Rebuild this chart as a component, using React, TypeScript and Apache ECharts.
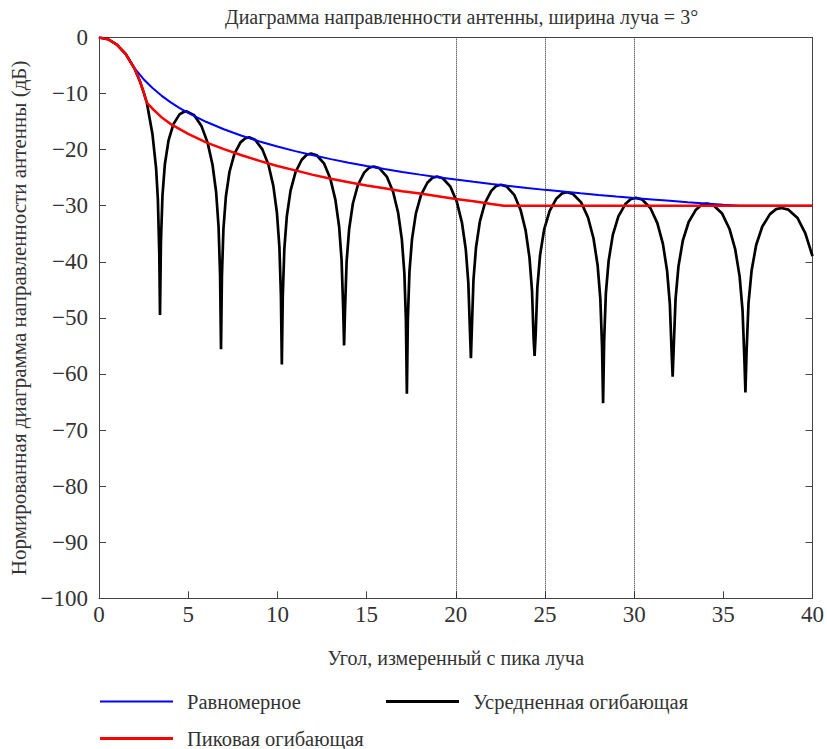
import React, { useEffect, useRef } from "react";
import * as echarts from "echarts";

const titleText = "Диаграмма направленности антенны, ширина луча = 3°";
const xAxisName = "Угол, измеренный с пика луча";
const yAxisName = "Нормированная диаграмма направленности антенны (дБ)";
const seriesNames = ["Равномерное", "Усредненная огибающая", "Пиковая огибающая"];

// Black curve: far-field pattern (angle in degrees, level in dB)
const patternAngles = [
  0, 0.5, 1, 1.5, 2, 2.3, 2.5, 2.68, 3.0, 3.2, 3.3, 3.38,
  3.42, 3.471, 3.557, 3.694, 3.899, 4.172, 4.514, 4.788, 4.891, 5.335, 5.746, 6.088, 6.361, 6.566, 6.703, 6.789,
  6.84, 6.891, 6.976, 7.113, 7.317, 7.59, 7.931, 8.204, 8.409, 8.75, 9.159, 9.5, 9.773, 9.977, 10.114, 10.199,
  10.25, 10.302, 10.39, 10.529, 10.739, 11.018, 11.367, 11.646, 11.89, 12.204, 12.623, 12.972, 13.251, 13.461, 13.6, 13.688,
  13.74, 13.793, 13.881, 14.022, 14.233, 14.514, 14.866, 15.148, 15.394, 15.711, 16.134, 16.486, 16.767, 16.978, 17.119, 17.207,
  17.26, 17.314, 17.404, 17.547, 17.763, 18.05, 18.409, 18.696, 18.947, 19.27, 19.701, 20.06, 20.347, 20.563, 20.706, 20.796,
  20.85, 20.904, 20.993, 21.136, 21.35, 21.635, 21.992, 22.278, 22.528, 22.849, 23.278, 23.635, 23.92, 24.134, 24.277, 24.366,
  24.42, 24.478, 24.574, 24.727, 24.958, 25.265, 25.649, 25.956, 26.225, 26.57, 27.031, 27.415, 27.722, 27.953, 28.106, 28.202,
  28.26, 28.319, 28.416, 28.572, 28.806, 29.118, 29.508, 29.82, 30.093, 30.444, 30.912, 31.302, 31.614, 31.848, 32.004, 32.102,
  32.16, 32.221, 32.323, 32.486, 32.731, 33.058, 33.466, 33.792, 34.078, 34.445, 34.934, 35.342, 35.669, 35.914, 36.077, 36.179,
  36.24, 36.305, 36.412, 36.584, 36.842, 37.186, 37.616, 37.96, 38.261, 38.648, 39.164, 39.594, 40,
];
const patternDb = [
  0, -0.3, -1.26, -2.95, -5.59, -7.84, -9.74, -11.6, -17.3, -23.3, -28.8, -38.5,
  -49.5, -36.55, -28.25, -22.55, -18.35, -15.45, -13.71, -13.19, -13.15, -13.85, -15.8, -18.75, -22.65, -27.55, -33.75, -42.35,
  -55.6, -42.5, -34.15, -28.36, -23.94, -20.75, -18.7, -17.96, -17.8, -18.24, -19.95, -22.7, -26.46, -31.3, -37.4, -46.0,
  -58.3, -46.2, -37.7, -31.9, -27.3, -24.0, -21.8, -20.9, -20.7, -21.0, -22.5, -25.2, -28.9, -33.7, -39.7, -48.2,
  -54.9, -48.5, -40.0, -34.2, -29.6, -26.3, -24.1, -23.2, -23.0, -23.3, -24.8, -27.5, -31.2, -36.0, -42.0, -50.5,
  -63.5, -50.3, -41.8, -36.0, -31.4, -28.1, -25.9, -25.0, -24.8, -25.1, -26.6, -29.3, -33.0, -37.8, -43.8, -52.3,
  -57.2, -51.75, -43.25, -37.45, -32.85, -29.55, -27.35, -26.45, -26.25, -26.55, -28.05, -30.75, -34.45, -39.25, -45.25, -53.75,
  -56.8, -53.1, -44.6, -38.8, -34.2, -30.9, -28.7, -27.8, -27.6, -27.9, -29.4, -32.1, -35.8, -40.6, -46.6, -55.1,
  -65.2, -54.1, -45.6, -39.8, -35.2, -31.9, -29.7, -28.8, -28.6, -28.9, -30.4, -33.1, -36.8, -41.6, -47.6, -56.1,
  -60.5, -55.1, -46.6, -40.8, -36.2, -32.9, -30.7, -29.8, -29.6, -29.9, -31.4, -34.1, -37.8, -42.6, -48.6, -57.1,
  -63.3, -55.9, -47.4, -41.6, -37.0, -33.7, -31.5, -30.6, -30.4, -30.7, -32.2, -34.9, -39.0,
];

// Blue curve
const uniformAngles = [
  0, 0.5, 1, 1.5, 2, 2.5, 3, 3.5, 4, 4.5, 5, 6, 7, 8, 9, 10, 11, 12, 13, 14, 15, 16, 17, 18, 19, 20,
  21, 22, 23, 24, 25, 26, 27, 28, 29, 30, 31, 32, 33, 34, 35, 35.9, 40,
];
const uniformDb = [
  0, -0.3, -1.26, -2.95, -5.5, -7.44, -9.02, -10.36, -11.52, -12.54, -13.45, -15.03, -16.36, -17.52, -18.53, -19.44,
  -20.26, -21.0, -21.69, -22.32, -22.91, -23.45, -23.97, -24.45, -24.9, -25.33, -25.73, -26.12, -26.48, -26.83,
  -27.17, -27.48, -27.79, -28.08, -28.36, -28.63, -28.88, -29.13, -29.37, -29.6, -29.82, -30, -30,
];

// Red curve
const peakAngles = [
  0, 0.5, 1, 1.5, 2, 2.3, 2.5, 2.68, 3, 3.5, 4, 5, 6, 7, 8, 9, 10, 11, 12, 13, 14, 15, 16, 17, 18, 19, 20,
  21, 22, 22.7, 40,
];
const peakDb = [
  0, -0.3, -1.26, -2.95, -5.59, -7.84, -9.74, -11.6, -12.7, -14.2, -15.4, -17.2, -18.7, -19.9, -21.0, -22.0,
  -22.9, -23.7, -24.5, -25.2, -25.8, -26.4, -26.9, -27.4, -27.8, -28.3, -28.8, -29.2, -29.7, -30, -30,
];

const markerAngles = [20, 25, 30];
const rightTickValues = [-40, -50, -60, -70, -80, -90];

const FONT = "Liberation Serif";
const TEXT = "#333";
const AXIS = "#444";

const zip = (xs: number[], ys: number[]) => xs.map((x, i) => [x, ys[i]]);
const fmtY = (v: number) => (v < 0 ? "\u2212" + Math.abs(v) : String(v));

export default function App() {
  const ref = useRef<HTMLDivElement>(null);
  useEffect(() => {
    if (!ref.current) return;
    const chart = echarts.init(ref.current, null, { renderer: "svg" });
    const legendText = { fontFamily: FONT, fontSize: 20.5, color: TEXT, padding: [0, 0, 0, 9] };
    chart.setOption({
      animation: false,
      backgroundColor: "#fff",
      textStyle: { fontFamily: FONT },
      title: {
        text: titleText,
        left: 220,
        top: 2,
        textStyle: { fontFamily: FONT, fontSize: 20, fontWeight: "normal", color: TEXT },
      },
      grid: { left: 99, right: 14.5, top: 37.5, bottom: 150.7 },
      legend: [
        { data: [seriesNames[0]], left: 100, top: 691, padding: 0, icon: "rect", itemWidth: 73, itemHeight: 2, textStyle: legendText },
        { data: [seriesNames[1]], left: 386, top: 691, padding: 0, icon: "rect", itemWidth: 73, itemHeight: 3, textStyle: legendText },
        { data: [seriesNames[2]], left: 100, top: 728, padding: 0, icon: "rect", itemWidth: 73, itemHeight: 3, textStyle: legendText },
      ],
      xAxis: [
        {
          type: "value",
          min: 0,
          max: 40,
          interval: 5,
          name: xAxisName,
          nameLocation: "middle",
          nameGap: 50,
          nameTextStyle: { fontFamily: FONT, fontSize: 20, color: TEXT },
          axisLine: { onZero: false, lineStyle: { color: AXIS, width: 1 } },
          axisTick: { inside: true, length: 7, lineStyle: { color: AXIS } },
          axisLabel: { fontFamily: FONT, fontSize: 23, color: TEXT, margin: 5 },
          splitLine: { show: false },
        },
        {
          type: "value",
          position: "top",
          min: 0,
          max: 40,
          interval: 5,
          axisLine: { show: true, onZero: false, lineStyle: { color: AXIS, width: 1 } },
          axisTick: { show: false },
          axisLabel: { show: false },
          splitLine: { show: false },
        },
      ],
      yAxis: [
        {
          type: "value",
          min: -100,
          max: 0,
          interval: 10,
          name: yAxisName,
          nameLocation: "middle",
          nameRotate: 90,
          nameGap: 63,
          nameTextStyle: { fontFamily: FONT, fontSize: 21, color: TEXT },
          axisLine: { onZero: false, lineStyle: { color: AXIS, width: 1 } },
          axisTick: { inside: true, length: 7, lineStyle: { color: AXIS } },
          axisLabel: { fontFamily: FONT, fontSize: 23, color: TEXT, margin: 11, formatter: fmtY },
          splitLine: { show: false },
        },
        {
          type: "value",
          position: "right",
          min: -100,
          max: 0,
          interval: 10,
          axisLine: { show: true, onZero: false, lineStyle: { color: AXIS, width: 1 } },
          axisTick: { show: true, inside: true, length: 7, customValues: rightTickValues, lineStyle: { color: AXIS } },
          axisLabel: { show: false },
          splitLine: { show: false },
        },
      ],
      series: [
        {
          name: seriesNames[1],
          type: "line",
          data: zip(patternAngles, patternDb),
          showSymbol: false,
          symbol: "none",
          color: "#000",
          itemStyle: { color: "#000" },
          lineStyle: { color: "#000", width: 2.7 },
          z: 2,
          markLine: {
            silent: true,
            symbol: ["none", "none"],
            label: { show: false },
            lineStyle: { color: "#222", type: "dotted", width: 1 },
            data: markerAngles.map((a) => ({ xAxis: a })),
          },
        },
        {
          name: seriesNames[0],
          type: "line",
          data: zip(uniformAngles, uniformDb),
          showSymbol: false,
          symbol: "none",
          color: "#0000ff",
          itemStyle: { color: "#0000ff" },
          lineStyle: { color: "#0000ff", width: 2 },
          z: 3,
        },
        {
          name: seriesNames[2],
          type: "line",
          data: zip(peakAngles, peakDb),
          showSymbol: false,
          symbol: "none",
          color: "#ff0000",
          itemStyle: { color: "#ff0000" },
          lineStyle: { color: "#ff0000", width: 2.5 },
          z: 4,
        },
      ],
    });
    return () => chart.dispose();
  }, []);
  return (
    <div
      ref={ref}
      style={{ position: "fixed", left: 0, top: 0, width: 827, height: 749, background: "#fff" }}
    />
  );
}
